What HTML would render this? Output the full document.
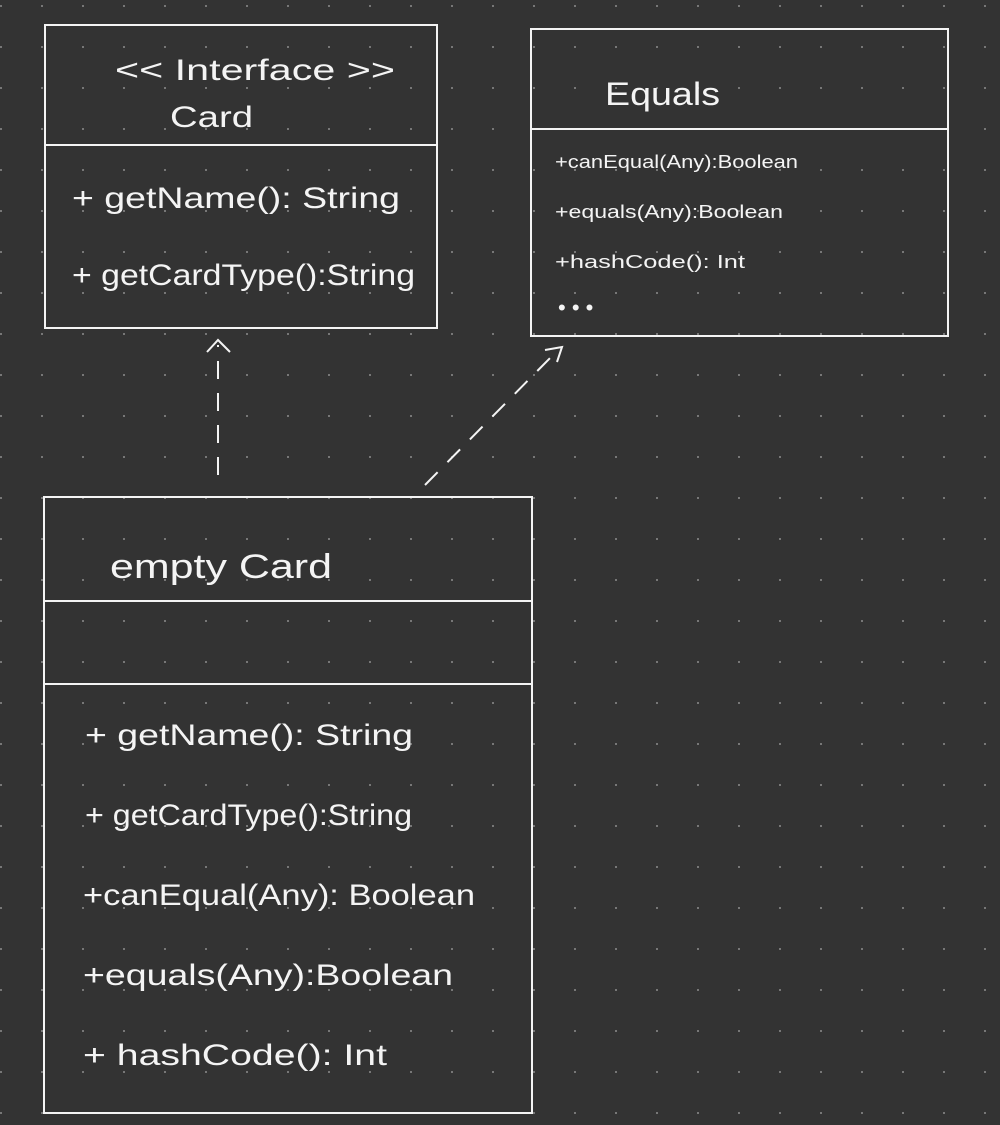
<!DOCTYPE html>
<html><head><meta charset="utf-8"><style>
html,body{margin:0;padding:0;background:#333333;}
svg{display:block}
text{font-family:"Liberation Sans",sans-serif;fill:#f4f4f4;font-weight:normal}
</style></head><body>
<svg width="1000" height="1125" xmlns="http://www.w3.org/2000/svg">
<defs><pattern id="d" x="0" y="5" width="41" height="41" patternUnits="userSpaceOnUse"><rect x="0" y="0" width="2" height="2" fill="#777"/></pattern></defs>
<rect width="1000" height="1125" fill="#333333"/>
<rect width="1000" height="1125" fill="url(#d)"/>
<g stroke="#f4f4f4" stroke-width="2" fill="none">
<rect x="45" y="25" width="392" height="303"/>
<line x1="45" y1="145" x2="437" y2="145"/>
<rect x="531" y="29" width="417" height="307"/>
<line x1="531" y1="129" x2="948" y2="129"/>
<rect x="44" y="497" width="488" height="616"/>
<line x1="44" y1="601" x2="532" y2="601"/>
<line x1="44" y1="684" x2="532" y2="684"/>
<line x1="218" y1="475" x2="218" y2="345" stroke-dasharray="18,14"/>
<polyline points="207,352 218,340 230,352"/>
<line x1="425" y1="485" x2="555" y2="353" stroke-dasharray="18,14"/>
<polyline points="545,350 562,347 557,362"/>
</g>
<g lengthAdjust="spacingAndGlyphs">
<text x="115" y="80" font-size="30" textLength="280" lengthAdjust="spacingAndGlyphs">&lt;&lt; Interface &gt;&gt;</text>
<text x="170" y="127" font-size="30" textLength="83" lengthAdjust="spacingAndGlyphs">Card</text>
<text x="72" y="208" font-size="30" textLength="328" lengthAdjust="spacingAndGlyphs">+ getName(): String</text>
<text x="72" y="285" font-size="30" textLength="343" lengthAdjust="spacingAndGlyphs">+ getCardType():String</text>
<text x="605" y="105" font-size="32" textLength="115" lengthAdjust="spacingAndGlyphs">Equals</text>
<text x="555" y="168" font-size="18" textLength="243" lengthAdjust="spacingAndGlyphs">+canEqual(Any):Boolean</text>
<text x="555" y="218" font-size="18" textLength="228" lengthAdjust="spacingAndGlyphs">+equals(Any):Boolean</text>
<text x="555" y="268" font-size="18" textLength="190" lengthAdjust="spacingAndGlyphs">+hashCode(): Int</text>
<text x="558" y="315" font-size="22">• • •</text>
<text x="110" y="578" font-size="34" textLength="222" lengthAdjust="spacingAndGlyphs">empty Card</text>
<text x="85" y="745" font-size="30" textLength="328" lengthAdjust="spacingAndGlyphs">+ getName(): String</text>
<text x="85" y="825" font-size="30" textLength="327" lengthAdjust="spacingAndGlyphs">+ getCardType():String</text>
<text x="83" y="905" font-size="30" textLength="392" lengthAdjust="spacingAndGlyphs">+canEqual(Any): Boolean</text>
<text x="83" y="985" font-size="30" textLength="370" lengthAdjust="spacingAndGlyphs">+equals(Any):Boolean</text>
<text x="83" y="1065" font-size="30" textLength="304" lengthAdjust="spacingAndGlyphs">+ hashCode(): Int</text>
</g>
</svg>
</body></html>
